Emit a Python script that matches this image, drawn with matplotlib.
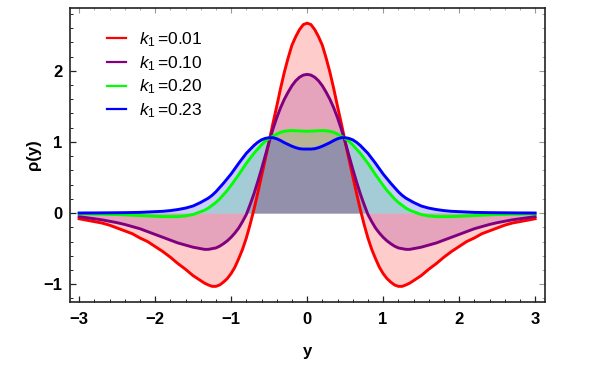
import matplotlib
matplotlib.use("Agg")
import matplotlib.pyplot as plt
import numpy as np
from matplotlib.ticker import MultipleLocator
from matplotlib.lines import Line2D

plt.rcParams['font.family'] = ['Liberation Sans', 'DejaVu Sans']
plt.rcParams['mathtext.fontset'] = 'custom'
plt.rcParams['mathtext.rm'] = 'Liberation Sans'
plt.rcParams['mathtext.it'] = 'Liberation Sans:italic'

# y positions (half, curves are symmetric about y=0)
y_half = [0.0, 0.05, 0.1, 0.15, 0.2, 0.25, 0.3, 0.35, 0.4, 0.45,
          0.5, 0.55, 0.6, 0.65, 0.7, 0.75, 0.8, 0.85, 0.9, 0.95,
          1.0, 1.05, 1.1, 1.15, 1.2, 1.25, 1.3, 1.35, 1.4,
          1.5, 1.6, 1.7, 1.8, 1.9, 2.0, 2.1, 2.2, 2.3, 2.4, 2.5,
          2.6, 2.7, 2.8, 2.9, 3.0]

rho_k001 = [2.67, 2.65, 2.58, 2.48, 2.36, 2.18, 1.98, 1.75, 1.50, 1.26,
            1.01, 0.76, 0.52, 0.28, 0.05, -0.16, -0.35, -0.51, -0.64, -0.76,
            -0.85, -0.92, -0.97, -1.01, -1.03, -1.03, -1.01, -0.985, -0.95,
            -0.88, -0.79, -0.71, -0.62, -0.54, -0.47, -0.40, -0.35, -0.29, -0.25, -0.21,
            -0.17, -0.14, -0.12, -0.10, -0.08]
rho_k010 = [1.95, 1.94, 1.91, 1.86, 1.79, 1.70, 1.60, 1.48, 1.34, 1.18,
            1.00, 0.81, 0.62, 0.44, 0.27, 0.12, -0.02, -0.12, -0.21, -0.28,
            -0.34, -0.39, -0.43, -0.465, -0.49, -0.50, -0.51, -0.51, -0.50,
            -0.48, -0.45, -0.42, -0.38, -0.34, -0.30, -0.26, -0.22, -0.19, -0.16, -0.135,
            -0.115, -0.095, -0.08, -0.065, -0.05]
rho_k020 = [1.15, 1.152, 1.155, 1.158, 1.16, 1.157, 1.15, 1.135, 1.11, 1.08,
            1.05, 1.01, 0.96, 0.90, 0.84, 0.77, 0.70, 0.62, 0.54, 0.465,
            0.39, 0.32, 0.26, 0.20, 0.15, 0.11, 0.07, 0.04, 0.02,
            -0.02, -0.04, -0.05, -0.05, -0.05, -0.045, -0.04, -0.035, -0.03, -0.025, -0.02,
            -0.02, -0.015, -0.015, -0.01, -0.01]
rho_k023 = [0.90, 0.90, 0.905, 0.92, 0.94, 0.965, 0.99, 1.02, 1.045, 1.06,
            1.06, 1.05, 1.03, 0.995, 0.95, 0.895, 0.84, 0.77, 0.70, 0.625,
            0.55, 0.485, 0.42, 0.36, 0.30, 0.25, 0.21, 0.18, 0.15,
            0.10, 0.07, 0.05, 0.035, 0.025, 0.02, 0.015, 0.01, 0.008, 0.006, 0.005,
            0.004, 0.003, 0.002, 0.002, 0.001]

labels = [r'$k_1\,$=0.01', r'$k_1\,$=0.10', r'$k_1\,$=0.20', r'$k_1\,$=0.23']
series = [rho_k001, rho_k010, rho_k020, rho_k023]
colors = ['#ff0000', '#800080', '#00ff00', '#0000ff']

x_ticks = [-3, -2, -1, 0, 1, 2, 3]
y_ticks = [-1, 0, 1, 2]


def mirror(v):
    v = np.asarray(v, dtype=float)
    return np.concatenate([v[:0:-1], v])


yy = np.concatenate([-np.asarray(y_half)[:0:-1], np.asarray(y_half)])

fig = plt.figure(figsize=(6.0, 3.74), dpi=100)
ax = fig.add_axes([70 / 600, 72 / 374, 475 / 600, 294.5 / 374])

for vals, c in zip(series, colors):
    ax.fill_between(yy, mirror(vals), 0, color=c, alpha=0.2, linewidth=0)
for vals, c, lab in zip(series, colors, labels):
    ax.plot(yy, mirror(vals), color=c, lw=2.1, solid_joinstyle='round')

ax.set_xlim(-3.12, 3.13)
ax.set_ylim(-1.25, 2.89)
ax.set_xticks(x_ticks)
ax.set_yticks(y_ticks)
ax.set_xticklabels(['\u22123', '\u22122', '\u22121', '0', '1', '2', '3'])
ax.set_yticklabels(['\u22121', '0', '1', '2'])
ax.xaxis.set_minor_locator(MultipleLocator(0.2))
ax.yaxis.set_minor_locator(MultipleLocator(0.2))
ax.tick_params(which='major', direction='in', length=4, width=0.9, color='#222222')
ax.tick_params(which='minor', direction='in', length=2.3, width=0.7, color='#222222')
ax.tick_params(axis='x', which='major', pad=7.5, labelsize=12)
ax.tick_params(axis='y', which='major', pad=5.5, labelsize=12)
for lab in ax.get_xticklabels() + ax.get_yticklabels():
    lab.set_fontweight('bold')

# top/right ticks (lighter, no labels)
secx = ax.secondary_xaxis('top')
secx.set_xticks(x_ticks)
secx.xaxis.set_minor_locator(MultipleLocator(0.2))
secx.tick_params(which='major', direction='in', length=4, width=0.8, colors='#999999', labeltop=False)
secx.tick_params(which='minor', direction='in', length=2.3, width=0.6, colors='#999999')
secx.spines['top'].set_visible(False)
secy = ax.secondary_yaxis('right')
secy.set_yticks(y_ticks)
secy.yaxis.set_minor_locator(MultipleLocator(0.2))
secy.tick_params(which='major', direction='in', length=4, width=0.8, colors='#999999', labelright=False)
secy.tick_params(which='minor', direction='in', length=2.3, width=0.6, colors='#999999')
secy.spines['right'].set_visible(False)

for s in ax.spines.values():
    s.set_linewidth(1.2)
    s.set_color('#222222')

ax.set_xlabel('y', fontsize=12, fontweight='bold')
ax.xaxis.set_label_coords(0.5, -0.143)
ax.set_ylabel('\u03c1(y)', fontsize=12, fontweight='bold')
ax.yaxis.set_label_coords(-0.062, 0.5)

handles = [Line2D([0], [0], color=c, lw=1.6) for c in colors]
leg = ax.legend(handles, labels, loc='upper left', bbox_to_anchor=(0.078, 0.922),
                frameon=False, fontsize=12.5, handlelength=1.1, handletextpad=0.75,
                labelspacing=0.28, borderpad=0, borderaxespad=0)

fig.savefig('out.png', dpi=100)
